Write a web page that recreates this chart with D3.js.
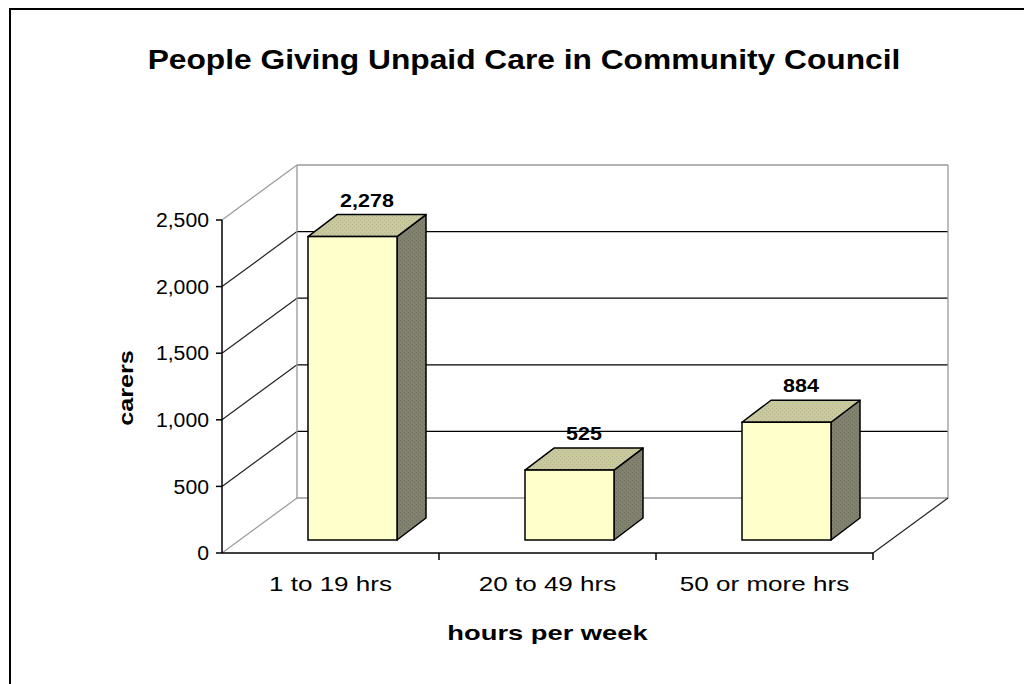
<!DOCTYPE html>
<html>
<head>
<meta charset="utf-8">
<script src="https://cdn.jsdelivr.net/npm/d3@7"></script>
<style>
  body { margin: 0; background: #fff; }
  text { font-family: "Liberation Sans", Arial, sans-serif; fill: #000; }
</style>
</head>
<body>
<svg id="chart" width="1024" height="684"></svg>
<script>
// ---- DATA ---- //
const categories = ["1 to 19 hrs", "20 to 49 hrs", "50 or more hrs"];
const carers = [2278, 525, 884];
const yTicks = [0, 500, 1000, 1500, 2000, 2500];
const titleText = "People Giving Unpaid Care in Community Council";
const xTitle = "hours per week";
const yTitle = "carers";

// ---- CHART SETUP ---- //
const svg = d3.select("#chart");

// outer frame
svg.append("rect")
  .attr("x", 10).attr("y", 9)
  .attr("width", 1040).attr("height", 700)
  .attr("fill", "none")
  .attr("stroke", "#000")
  .attr("stroke-width", 2);

// front plane of the plot, and depth of the 3d box
const plot = {left: 222, right: 873, bottom: 553, top: 220};
const depth = {dx: 75, dy: -55};

const xScale = d3.scaleBand()
  .domain(categories)
  .range([plot.left, plot.right]);
const yScale = d3.scaleLinear()
  .domain([0, 2500])
  .range([plot.bottom, plot.top]);

// stretch text to mimic the wide hinted windows fonts
function widen(sel, factor) {
  sel.each(function() {
    const w = this.getComputedTextLength();
    d3.select(this)
      .attr("textLength", w * factor)
      .attr("lengthAdjust", "spacingAndGlyphs");
  });
}

// patterns for the shaded bar faces
const defs = svg.append("defs");
function dither(id, base, dot) {
  const p = defs.append("pattern")
    .attr("id", id)
    .attr("width", 4).attr("height", 4)
    .attr("patternUnits", "userSpaceOnUse");
  p.append("rect").attr("width", 4).attr("height", 4).attr("fill", base);
  p.append("rect").attr("x", 0).attr("y", 0).attr("width", 1).attr("height", 1).attr("fill", dot);
  p.append("rect").attr("x", 2).attr("y", 2).attr("width", 1).attr("height", 1).attr("fill", dot);
}
dither("topFill", "#c9c99a", "#b4b49a");
dither("sideFill", "#82826a", "#6e6e6e");

// ---- WALLS AND GRIDLINES ---- //
const walls = svg.append("g");

// back wall gridlines
walls.selectAll(".backGrid")
  .data(yTicks)
  .enter().append("line")
    .attr("x1", plot.left + depth.dx)
    .attr("x2", plot.right + depth.dx)
    .attr("y1", d => yScale(d) + depth.dy)
    .attr("y2", d => yScale(d) + depth.dy)
    .attr("stroke", d => (d == 0 || d == 2500) ? "#999" : "#000")
    .attr("stroke-width", 1.3);

// side wall gridlines
walls.selectAll(".sideGrid")
  .data(yTicks)
  .enter().append("line")
    .attr("x1", plot.left)
    .attr("x2", plot.left + depth.dx)
    .attr("y1", d => yScale(d))
    .attr("y2", d => yScale(d) + depth.dy)
    .attr("stroke", d => (d == 0 || d == 2500) ? "#999" : "#222")
    .attr("stroke-width", 1.2);

// back wall edges
walls.append("line")
  .attr("x1", plot.left + depth.dx).attr("x2", plot.left + depth.dx)
  .attr("y1", yScale(0) + depth.dy).attr("y2", yScale(2500) + depth.dy)
  .attr("stroke", "#999").attr("stroke-width", 1.3);
walls.append("line")
  .attr("x1", plot.right + depth.dx).attr("x2", plot.right + depth.dx)
  .attr("y1", yScale(0) + depth.dy).attr("y2", yScale(2500) + depth.dy)
  .attr("stroke", "#999").attr("stroke-width", 1.3);

// floor right edge
walls.append("line")
  .attr("x1", plot.right).attr("x2", plot.right + depth.dx)
  .attr("y1", yScale(0)).attr("y2", yScale(0) + depth.dy)
  .attr("stroke", "#222").attr("stroke-width", 1.2);

// ---- BARS ---- //
const bar = {inset: 86, width: 89, fx: 0, fy: -13, dx: 29, dy: -22};
const bars = svg.selectAll(".bar")
  .data(categories.map((c, i) => ({cat: c, value: carers[i]})))
  .enter().append("g")
    .attr("class", "bar");

bars.each(function(d) {
  const g = d3.select(this);
  const x0 = xScale(d.cat) + bar.inset;
  const x1 = x0 + bar.width;
  const yb = yScale(0) + bar.fy;
  const yt = yScale(d.value) + bar.fy;

  // side face
  g.append("path")
    .attr("d", `M${x1},${yb} L${x1 + bar.dx},${yb + bar.dy} L${x1 + bar.dx},${yt + bar.dy} L${x1},${yt} Z`)
    .attr("fill", "url(#sideFill)")
    .attr("stroke", "#000").attr("stroke-width", 1.5).attr("stroke-linejoin", "round");
  // top face
  g.append("path")
    .attr("d", `M${x0},${yt} L${x0 + bar.dx},${yt + bar.dy} L${x1 + bar.dx},${yt + bar.dy} L${x1},${yt} Z`)
    .attr("fill", "url(#topFill)")
    .attr("stroke", "#000").attr("stroke-width", 1.5).attr("stroke-linejoin", "round");
  // front face
  g.append("rect")
    .attr("x", x0).attr("y", yt)
    .attr("width", bar.width).attr("height", yb - yt)
    .attr("fill", "#ffffcc")
    .attr("stroke", "#000").attr("stroke-width", 1.5);

  // value label
  g.append("text")
    .attr("x", x0 + bar.width / 2 + bar.dx / 2)
    .attr("y", yt + bar.dy - 8)
    .attr("text-anchor", "middle")
    .style("font-size", "19px")
    .style("font-weight", "bold")
    .text(d3.format(",")(d.value))
    .call(widen, 1.13);
});

// ---- AXES ---- //
const axes = svg.append("g");

// y axis
axes.append("line")
  .attr("x1", plot.left).attr("x2", plot.left)
  .attr("y1", yScale(0)).attr("y2", yScale(2500))
  .attr("stroke", "#000").attr("stroke-width", 1.5);
axes.selectAll(".ytick")
  .data(yTicks)
  .enter().append("line")
    .attr("x1", plot.left - 6).attr("x2", plot.left)
    .attr("y1", d => yScale(d)).attr("y2", d => yScale(d))
    .attr("stroke", "#000").attr("stroke-width", 1.5);
axes.selectAll(".ylabel")
  .data(yTicks)
  .enter().append("text")
    .attr("x", plot.left - 13)
    .attr("y", d => yScale(d))
    .attr("dy", "0.36em")
    .attr("text-anchor", "end")
    .style("font-size", "20px")
    .text(d => d3.format(",")(d))
    .call(widen, 1.06);

// x axis
axes.append("line")
  .attr("x1", plot.left).attr("x2", plot.right)
  .attr("y1", yScale(0)).attr("y2", yScale(0))
  .attr("stroke", "#000").attr("stroke-width", 1.5);
axes.selectAll(".xtick")
  .data(categories.slice(1).concat([null]))
  .enter().append("line")
    .attr("x1", d => d ? xScale(d) : plot.right)
    .attr("x2", d => d ? xScale(d) : plot.right)
    .attr("y1", yScale(0)).attr("y2", yScale(0) + 7)
    .attr("stroke", "#000").attr("stroke-width", 1.5);
axes.selectAll(".xlabel")
  .data(categories)
  .enter().append("text")
    .attr("x", d => xScale(d) + xScale.bandwidth() / 2)
    .attr("y", 591)
    .attr("text-anchor", "middle")
    .style("font-size", "21px")
    .text(d => d)
    .call(widen, 1.24);

// axis titles
svg.append("text")
  .attr("x", xScale(categories[1]) + xScale.bandwidth() / 2)
  .attr("y", 640)
  .attr("text-anchor", "middle")
  .style("font-size", "21px")
  .style("font-weight", "bold")
  .text(xTitle)
  .call(widen, 1.3);

svg.append("text")
  .attr("transform", "translate(133,388) rotate(-90)")
  .attr("text-anchor", "middle")
  .style("font-size", "21px")
  .style("font-weight", "bold")
  .text(yTitle)
  .call(widen, 1.2);

// chart title
svg.append("text")
  .attr("x", 524)
  .attr("y", 69)
  .attr("text-anchor", "middle")
  .style("font-size", "27px")
  .style("font-weight", "bold")
  .text(titleText)
  .call(widen, 1.175);
</script>
</body>
</html>
